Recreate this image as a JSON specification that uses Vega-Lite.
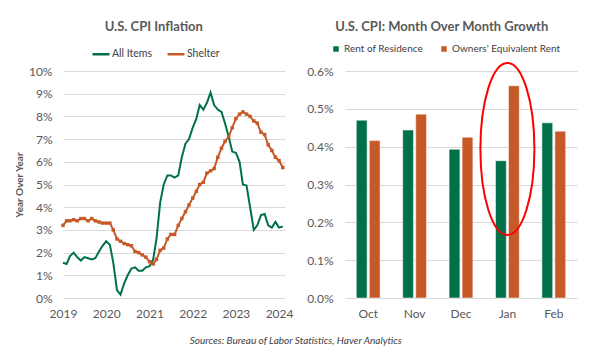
{
  "$schema": "https://vega.github.io/schema/vega-lite/v6.json",
  "background": "white",
  "padding": {"left": 14, "top": 21, "right": 10, "bottom": 5},
  "spacing": 12,
  "title": {"text": "Sources: Bureau of Labor Statistics, Haver Analytics", "orient": "bottom", "anchor": "middle", "fontStyle": "italic", "fontWeight": "normal", "fontSize": 10, "color": "#404040", "offset": 17},
  "config": {
    "font": "Lato",
    "view": {"stroke": null},
    "axis": {"labelColor": "#595959", "labelFontSize": 12, "gridColor": "#d9d9d9", "domain": false, "ticks": false, "tickSize": 0, "labelOverlap": false, "labelFlush": false},
    "title": {"color": "#595959", "fontSize": 13, "fontWeight": "bold"}
  },
  "resolve": {"scale": {"color": "independent", "x": "independent", "y": "independent"}, "legend": {"color": "independent"}},
  "hconcat": [
    {
      "width": 222,
      "height": 227,
      "title": {"text": "U.S. CPI Inflation", "anchor": "middle", "frame": "bounds", "offset": 10},
      "data": {"values": [
        {"date": "2019/01/01", "All Items": 1.55, "Shelter": 3.2},
        {"date": "2019/02/01", "All Items": 1.5, "Shelter": 3.4},
        {"date": "2019/03/01", "All Items": 1.85, "Shelter": 3.4},
        {"date": "2019/04/01", "All Items": 2.0, "Shelter": 3.45},
        {"date": "2019/05/01", "All Items": 1.8, "Shelter": 3.4},
        {"date": "2019/06/01", "All Items": 1.65, "Shelter": 3.5},
        {"date": "2019/07/01", "All Items": 1.8, "Shelter": 3.5},
        {"date": "2019/08/01", "All Items": 1.75, "Shelter": 3.4},
        {"date": "2019/09/01", "All Items": 1.7, "Shelter": 3.5},
        {"date": "2019/10/01", "All Items": 1.75, "Shelter": 3.4},
        {"date": "2019/11/01", "All Items": 2.05, "Shelter": 3.35},
        {"date": "2019/12/01", "All Items": 2.3, "Shelter": 3.3},
        {"date": "2020/01/01", "All Items": 2.5, "Shelter": 3.3},
        {"date": "2020/02/01", "All Items": 2.35, "Shelter": 3.3},
        {"date": "2020/03/01", "All Items": 1.55, "Shelter": 3.0},
        {"date": "2020/04/01", "All Items": 0.35, "Shelter": 2.6},
        {"date": "2020/05/01", "All Items": 0.15, "Shelter": 2.5},
        {"date": "2020/06/01", "All Items": 0.65, "Shelter": 2.4},
        {"date": "2020/07/01", "All Items": 1.0, "Shelter": 2.35},
        {"date": "2020/08/01", "All Items": 1.3, "Shelter": 2.3},
        {"date": "2020/09/01", "All Items": 1.35, "Shelter": 2.05},
        {"date": "2020/10/01", "All Items": 1.2, "Shelter": 2.0},
        {"date": "2020/11/01", "All Items": 1.2, "Shelter": 1.9},
        {"date": "2020/12/01", "All Items": 1.35, "Shelter": 1.8},
        {"date": "2021/01/01", "All Items": 1.4, "Shelter": 1.6},
        {"date": "2021/02/01", "All Items": 1.7, "Shelter": 1.5},
        {"date": "2021/03/01", "All Items": 2.6, "Shelter": 1.7},
        {"date": "2021/04/01", "All Items": 4.2, "Shelter": 2.1},
        {"date": "2021/05/01", "All Items": 5.0, "Shelter": 2.2},
        {"date": "2021/06/01", "All Items": 5.4, "Shelter": 2.6},
        {"date": "2021/07/01", "All Items": 5.4, "Shelter": 2.8},
        {"date": "2021/08/01", "All Items": 5.3, "Shelter": 2.8},
        {"date": "2021/09/01", "All Items": 5.4, "Shelter": 3.2},
        {"date": "2021/10/01", "All Items": 6.2, "Shelter": 3.5},
        {"date": "2021/11/01", "All Items": 6.8, "Shelter": 3.8},
        {"date": "2021/12/01", "All Items": 7.0, "Shelter": 4.1},
        {"date": "2022/01/01", "All Items": 7.5, "Shelter": 4.4},
        {"date": "2022/02/01", "All Items": 7.9, "Shelter": 4.7},
        {"date": "2022/03/01", "All Items": 8.5, "Shelter": 5.0},
        {"date": "2022/04/01", "All Items": 8.3, "Shelter": 5.1},
        {"date": "2022/05/01", "All Items": 8.6, "Shelter": 5.5},
        {"date": "2022/06/01", "All Items": 9.05, "Shelter": 5.6},
        {"date": "2022/07/01", "All Items": 8.5, "Shelter": 5.7},
        {"date": "2022/08/01", "All Items": 8.3, "Shelter": 6.2},
        {"date": "2022/09/01", "All Items": 8.2, "Shelter": 6.6},
        {"date": "2022/10/01", "All Items": 7.7, "Shelter": 6.9},
        {"date": "2022/11/01", "All Items": 7.1, "Shelter": 7.1},
        {"date": "2022/12/01", "All Items": 6.45, "Shelter": 7.5},
        {"date": "2023/01/01", "All Items": 6.4, "Shelter": 7.9},
        {"date": "2023/02/01", "All Items": 6.0, "Shelter": 8.1},
        {"date": "2023/03/01", "All Items": 5.0, "Shelter": 8.2},
        {"date": "2023/04/01", "All Items": 4.95, "Shelter": 8.1},
        {"date": "2023/05/01", "All Items": 4.0, "Shelter": 8.0},
        {"date": "2023/06/01", "All Items": 3.0, "Shelter": 7.8},
        {"date": "2023/07/01", "All Items": 3.2, "Shelter": 7.7},
        {"date": "2023/08/01", "All Items": 3.65, "Shelter": 7.3},
        {"date": "2023/09/01", "All Items": 3.7, "Shelter": 7.2},
        {"date": "2023/10/01", "All Items": 3.2, "Shelter": 6.75},
        {"date": "2023/11/01", "All Items": 3.1, "Shelter": 6.5},
        {"date": "2023/12/01", "All Items": 3.35, "Shelter": 6.2},
        {"date": "2024/01/01", "All Items": 3.1, "Shelter": 6.05},
        {"date": "2024/02/01", "All Items": 3.15, "Shelter": 5.75}
      ]},
      "transform": [{"fold": ["All Items", "Shelter"], "as": ["series", "value"]}],
      "encoding": {
        "x": {"field": "date", "type": "temporal",
          "scale": {"domain": [{"year": 2019, "month": 1, "date": 1}, {"year": 2024, "month": 2, "date": 20}]},
          "axis": {"title": null, "grid": false, "format": "%Y", "labelPadding": 10,
            "values": [{"year": 2019, "month": 1, "date": 1}, {"year": 2020, "month": 1, "date": 1}, {"year": 2021, "month": 1, "date": 1}, {"year": 2022, "month": 1, "date": 1}, {"year": 2023, "month": 1, "date": 1}, {"year": 2024, "month": 1, "date": 1}]}},
        "y": {"field": "value", "type": "quantitative", "scale": {"domain": [0, 10]},
          "axis": {"title": "Year Over Year", "titleFontSize": 10, "titleColor": "#595959", "titlePadding": 4, "grid": true, "values": [0, 1, 2, 3, 4, 5, 6, 7, 8, 9, 10], "labelExpr": "datum.value + '%'", "labelPadding": 11}},
        "color": {"field": "series", "type": "nominal",
          "scale": {"domain": ["All Items", "Shelter"], "range": ["#00704A", "#C55A28"]},
          "legend": {"orient": "none", "legendX": 28, "legendY": -27, "direction": "horizontal", "title": null, "symbolType": "stroke", "symbolSize": 289, "symbolStrokeWidth": 2.5, "labelFontSize": 10.5, "labelColor": "#404040", "labelOffset": 1, "columnPadding": 10}}
      },
      "layer": [
        {"mark": {"type": "line", "strokeWidth": 2}},
        {"transform": [{"filter": "datum.series === 'Shelter'"}], "mark": {"type": "point", "shape": "square", "filled": true, "size": 12, "opacity": 1}}
      ]
    },
    {
      "width": 232,
      "height": 227,
      "title": {"text": "U.S. CPI: Month Over Month Growth", "anchor": "middle", "frame": "bounds", "offset": 10},
      "encoding": {
        "x": {"field": "month", "type": "nominal", "sort": ["Oct", "Nov", "Dec", "Jan", "Feb"], "scale": {"paddingInner": 0, "paddingOuter": 0},
          "axis": {"title": null, "labelAngle": 0, "labelPadding": 10, "grid": false}},
        "y": {"field": "growth", "type": "quantitative", "scale": {"domain": [0, 0.6]},
          "axis": {"title": null, "grid": true, "values": [0, 0.1, 0.2, 0.3, 0.4, 0.5, 0.6], "labelExpr": "format(datum.value, '.1f') + '%'", "labelPadding": 12, "labelOverlap": false}}
      },
      "layer": [
        {
          "data": {"values": [
            {"month": "Oct", "measure": "Rent of Residence", "growth": 0.47},
            {"month": "Oct", "measure": "Owners' Equivalent Rent", "growth": 0.416},
            {"month": "Nov", "measure": "Rent of Residence", "growth": 0.444},
            {"month": "Nov", "measure": "Owners' Equivalent Rent", "growth": 0.486},
            {"month": "Dec", "measure": "Rent of Residence", "growth": 0.393},
            {"month": "Dec", "measure": "Owners' Equivalent Rent", "growth": 0.425},
            {"month": "Jan", "measure": "Rent of Residence", "growth": 0.363},
            {"month": "Jan", "measure": "Owners' Equivalent Rent", "growth": 0.561},
            {"month": "Feb", "measure": "Rent of Residence", "growth": 0.463},
            {"month": "Feb", "measure": "Owners' Equivalent Rent", "growth": 0.441}
          ]},
          "mark": {"type": "bar", "stroke": "white", "strokeWidth": 0.5},
          "encoding": {
            "xOffset": {"field": "measure", "type": "nominal", "sort": ["Rent of Residence", "Owners' Equivalent Rent"], "scale": {"paddingInner": 0.17, "paddingOuter": 0.87}},
            "color": {"field": "measure", "type": "nominal",
              "scale": {"domain": ["Rent of Residence", "Owners' Equivalent Rent"], "range": ["#00704A", "#C55A28"]},
              "legend": {"orient": "none", "legendX": -14, "legendY": -27, "direction": "horizontal", "title": null, "symbolType": "square", "symbolSize": 30, "symbolStrokeWidth": 0, "labelFontSize": 10, "labelColor": "#404040", "labelOffset": 3, "columnPadding": 16}}
          }
        },
        {
          "data": {"values": [{"month": "Jan", "growth": 0.394}]},
          "mark": {"type": "point", "shape": "M0,-1A0.314,1 0 1,1 0,1A0.314,1 0 1,1 0,-1Z", "size": 29584, "filled": false, "stroke": "#FF0000", "strokeWidth": 2, "opacity": 1}
        }
      ]
    }
  ]
}
